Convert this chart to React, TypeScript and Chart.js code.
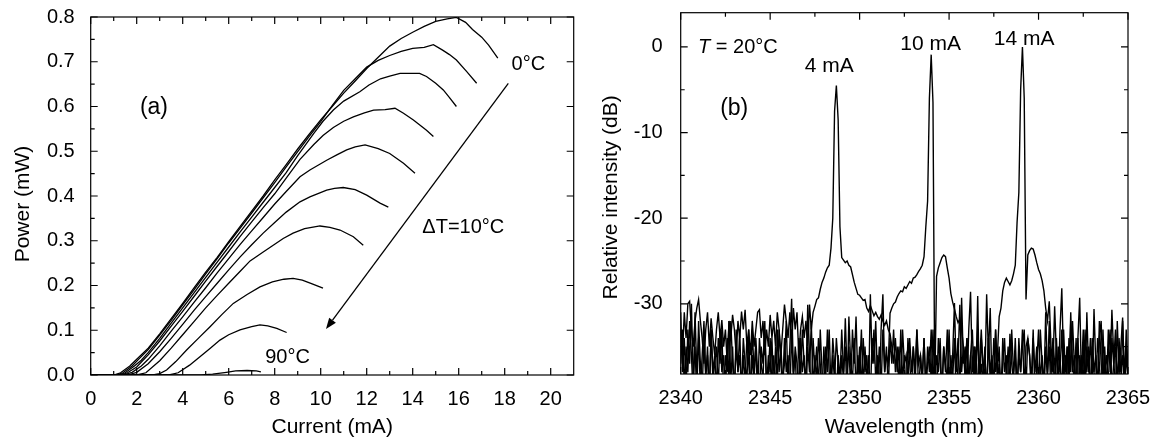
import React, { useEffect, useRef } from "react";
import { Chart, registerables } from "chart.js";

Chart.register(...registerables);

const FONT = '"Liberation Sans", Arial, Helvetica, sans-serif';

// ---------------- Panel (a): output power vs current, 0°C … 90°C ----------------
const LI_0C: number[][] = [[0,0],[1.0,0],[1.3,0.005],[1.7,0.02],[2.0,0.035],[2.5,0.06],[3.0,0.092],[3.5,0.126],[4.0,0.16],[4.5,0.195],[5.0,0.23],[5.5,0.263],[6.0,0.298],[6.5,0.332],[7.0,0.366],[7.5,0.4],[8.0,0.436],[8.5,0.47],[9.0,0.505],[9.5,0.538],[10.0,0.57],[10.5,0.6],[11.0,0.63],[11.5,0.657],[12.0,0.685],[12.5,0.71],[13.0,0.735],[13.5,0.752],[14.0,0.766],[14.5,0.779],[15.0,0.79],[15.5,0.796],[15.9,0.799],[16.3,0.788],[16.6,0.772],[17.0,0.755],[17.3,0.737],[17.7,0.708]];
const LI_10C: number[][] = [[0,0],[1.1,0],[1.4,0.005],[1.8,0.02],[2.1,0.036],[2.5,0.057],[3.0,0.089],[3.5,0.122],[4.0,0.157],[4.5,0.191],[5.0,0.226],[5.5,0.26],[6.0,0.295],[6.5,0.328],[7.0,0.362],[7.5,0.396],[8.0,0.43],[8.5,0.465],[9.0,0.499],[9.5,0.533],[10.0,0.566],[10.5,0.602],[11.0,0.636],[11.5,0.662],[12.0,0.688],[12.5,0.703],[13.0,0.714],[13.5,0.723],[14.0,0.73],[14.5,0.732],[14.9,0.738],[15.3,0.726],[15.6,0.716],[15.9,0.704],[16.35,0.678],[16.78,0.652]];
const LI_20C: number[][] = [[0,0],[1.2,0],[1.5,0.005],[1.9,0.02],[2.2,0.033],[2.5,0.05],[3.0,0.082],[3.5,0.116],[4.0,0.15],[4.5,0.184],[5.0,0.218],[5.5,0.252],[6.0,0.286],[6.5,0.32],[7.0,0.353],[7.5,0.386],[8.0,0.419],[8.5,0.452],[9.0,0.49],[9.7,0.54],[10.1,0.567],[10.55,0.592],[11.0,0.612],[11.7,0.633],[12.1,0.648],[12.6,0.662],[13.0,0.668],[13.45,0.674],[14.3,0.674],[14.6,0.667],[15.0,0.652],[15.33,0.637],[15.6,0.62],[15.9,0.6]];
const LI_30C: number[][] = [[0,0],[1.3,0],[1.6,0.005],[2.0,0.018],[2.5,0.045],[3.0,0.076],[3.5,0.109],[4.0,0.142],[4.5,0.176],[5.0,0.21],[5.5,0.243],[6.0,0.276],[6.5,0.31],[7.0,0.342],[7.5,0.374],[8.0,0.405],[8.5,0.44],[9.1,0.482],[9.7,0.515],[10.1,0.535],[10.55,0.553],[11.0,0.567],[11.42,0.577],[11.9,0.586],[12.3,0.592],[12.8,0.593],[13.23,0.596],[13.6,0.585],[14.03,0.57],[14.6,0.547],[14.9,0.533]];
const LI_40C: number[][] = [[0,0],[1.4,0],[1.8,0.006],[2.2,0.02],[2.5,0.035],[3.0,0.065],[3.5,0.098],[4.0,0.13],[4.5,0.163],[5.0,0.195],[5.5,0.228],[6.0,0.26],[6.5,0.292],[7.0,0.322],[7.5,0.352],[8.0,0.382],[8.5,0.41],[9.1,0.443],[9.53,0.458],[10.26,0.48],[10.7,0.492],[11.13,0.503],[11.5,0.51],[11.93,0.514],[12.5,0.506],[13.0,0.495],[13.6,0.473],[14.1,0.451]];
const LI_50C: number[][] = [[0,0],[1.6,0],[2.0,0.006],[2.5,0.025],[3.0,0.052],[3.5,0.082],[4.0,0.113],[4.5,0.145],[5.0,0.175],[5.5,0.205],[6.0,0.235],[6.5,0.264],[7.0,0.291],[7.5,0.317],[8.0,0.341],[8.5,0.364],[9.1,0.387],[9.53,0.398],[10.26,0.413],[10.6,0.417],[10.98,0.419],[11.5,0.414],[12.0,0.402],[12.58,0.384],[12.94,0.375]];
const LI_60C: number[][] = [[0,0],[2.0,0],[2.4,0.005],[3.0,0.032],[3.5,0.06],[4.0,0.09],[4.5,0.12],[5.0,0.15],[5.5,0.178],[6.0,0.205],[6.5,0.232],[6.93,0.255],[7.5,0.275],[8.0,0.292],[8.37,0.305],[8.8,0.317],[9.3,0.327],[9.97,0.333],[10.4,0.33],[10.84,0.324],[11.42,0.309],[11.85,0.29]];
const LI_70C: number[][] = [[0,0],[2.7,0],[3.0,0.003],[3.3,0.011],[3.7,0.03],[4.17,0.056],[4.7,0.083],[5.19,0.108],[5.7,0.135],[6.2,0.16],[6.8,0.18],[7.36,0.197],[7.9,0.208],[8.4,0.214],[8.8,0.216],[9.2,0.212],[9.6,0.204],[10.1,0.194]];
const LI_80C: number[][] = [[0,0],[3.4,0],[3.8,0.005],[4.3,0.022],[4.75,0.041],[5.2,0.06],[5.62,0.078],[6.0,0.09],[6.49,0.101],[7.0,0.108],[7.36,0.112],[7.7,0.11],[8.09,0.104],[8.52,0.095]];
const LI_90C: number[][] = [[0,0],[4.8,0],[5.3,0.002],[5.9,0.006],[6.3,0.009],[6.8,0.01],[7.2,0.009],[7.4,0.007]];

const LI_CURVES = [LI_0C, LI_10C, LI_20C, LI_30C, LI_40C, LI_50C, LI_60C, LI_70C, LI_80C, LI_90C];
const LI_LABELS = ["0°C", "10°C", "20°C", "30°C", "40°C", "50°C", "60°C", "70°C", "80°C", "90°C"];

const A_X_MAJOR = [0, 2, 4, 6, 8, 10, 12, 14, 16, 18, 20];
const A_X_MINOR = [1, 3, 5, 7, 9, 11, 13, 15, 17, 19];
const A_Y_MAJOR = [0, 0.1, 0.2, 0.3, 0.4, 0.5, 0.6, 0.7, 0.8];
const A_Y_MINOR = [0.05, 0.15, 0.25, 0.35, 0.45, 0.55, 0.65, 0.75];

// ---------------- Panel (b): spectra at T = 20°C (dB), sampled every 0.1 nm from 2340 nm ----------------
const WL_START = 2340;
const WL_STEP = 0.1;

const SPEC_4MA = [
  -33,-36,-31,-34,-30,-29.7,-33,-35,-32,-30.5,
  -29.5,-32,-34,-37,-33,-31,-35,-31.7,-34,-36,
  -33,-31,-34,-31.9,-35,-33,-37,-32,-34,-31.3,
  -33,-36,-32,-34,-30.9,-33,-30.7,-35,-33,-36,
  -32,-35,-33,-31,-30.7,-34,-32,-36,-33,-35,
  -31.3,-34,-32,-35,-31,-33,-36,-33,-30.1,-32,
  -34,-31,-35,-30.5,-33,-31,-36,-33,-31.5,-34,
  -32,-35,-30.1,-33,-31,-30.3,-29.5,-29.3,-28.3,-27.5,
  -27,-26.3,-25.8,-25.5,-23.5,-20,-7.5,-4.5,-8.5,-21,
  -24.6,-24.9,-25.2,-25,-25.5,-25.7,-26.6,-27.5,-28.2,-28.9,
  -29,-29.3,-29.6,-29.5,-30.5,-30.9,-30.2,-30.8,-31.4,-31,
  -31.5,-31.8,-31.3,-32,-32.5,-32,-33,-33.5,-35,-37,
  -34,-38,-35,-40,-33,-37,-36,-39,-34,-38,
  -35,-40,-33,-37,-36,-39,-34,-40,-35,-38,
  -33,-39,-36,-41,-34,-37,-40,-35,-38,-33,
  -40,-36,-39,-34,-41,-37,-30.1,-38,-35,-39,
  -34,-41,-36,-33,-39,-35,-40,-37,-33,-38,
  -36,-41,-34,-39,-37,-40,-33,-38,-35,-41,
  -37,-34,-39,-35,-40,-33,-38,-36,-41,-34,
  -38,-35,-33,-40,-34,-36,-39,-33,-41,-37,
  -33,-39,-36,-40,-31,-38,-35,-41,-34,-37,
  -40,-35,-38,-33,-39,-36,-41,-34,-38,-32,
  -37,-41,-34,-39,-36,-40,-33,-38,-35,-41,
  -35,-38,-40,-34,-37,-41,-33,-39,-36,-38,
  -40,-34,-37,-33,-39,-36,-41,-32,-38,-35,
  -37,
];

const SPEC_10MA = [
  -31,-38,-34,-40,-33,-37,-30,-39,-35,-41,
  -32,-37,-40,-34,-38,-36,-41,-33,-39,-37,
  -35,-40,-33,-38,-36,-41,-34,-39,-32,-37,
  -40,-35,-38,-33,-41,-36,-39,-34,-37,-40,
  -33,-38,-35,-41,-34,-37,-39,-32,-40,-36,
  -38,-34,-41,-35,-39,-33,-37,-40,-34,-38,
  -36,-41,-33,-39,-35,-37,-40,-34,-38,-36,
  -41,-35,-38,-32.2,-40,-36,-39,-34,-37,-41,
  -35,-39,-33,-38,-40,-34,-37,-41,-36,-39,
  -33,-38,-35,-41,-31.5,-37,-39,-34,-40,-36,
  -38,-33,-40,-35,-39,-36,-41,-34,-37,-32,
  -39,-35,-40,-33,-38,-36,-37,-31.1,-30.5,-30,
  -29.8,-29.2,-28.8,-28.5,-28.6,-28,-28.2,-27.8,-27.4,-27.6,
  -27,-26.9,-26.6,-26.2,-25.9,-25.5,-24.5,-21,-18,-6,
  -0.9,-6.5,-40,-26.8,-25.8,-25.2,-24.6,-24.3,-24.5,-25.8,
  -27,-28.8,-29.8,-30.6,-31.5,-32.2,-31.8,-33,-35,-37,
  -34,-39,-36,-41,-35,-38,-33,-40,-37,-39,
  -35,-41,-34,-38,-36,-40,-33,-39,-37,-41,
  -34,-38,-36,-41,-33.5,-37,-39,-34,-40,-36,
  -38,-33,-40,-35,-34,-36,-41,-34,-38,-35,
  -40,-33,-37,-41,-35,-39,-32,-38,-36,-40,
  -34,-39,-36,-41,-33,-38,-35,-40,-32,-37,
  -39,-34,-41,-36,-38,-33,-40,-35,-37,-41,
  -34,-38,-36,-40,-32,-37,-39,-35,-41,-36,
  -33,-40,-37,-35,-41,-34,-38,-36,-40,-33,
  -38,
];

const SPEC_14MA = [
  -37,-33,-40,-35,-38,-32,-36,-41,-31,-38,
  -34,-40,-36,-32,-39,-35,-41,-33,-38,-36,
  -40,-34,-37,-33,-41,-36,-38,-32,-39,-35,
  -41,-33,-38,-36,-40,-34,-37,-39,-33,-41,
  -36,-39,-34,-38,-41,-35,-37,-33,-40,-38,
  -34,-40,-36,-41,-33,-38,-35,-39,-37,-32,
  -40,-35,-29.4,-38,-36,-41,-34,-39,-33,-37,
  -39,-30.1,-36,-41,-34,-38,-35,-40,-33,-38,
  -41,-35,-38,-33,-40,-36,-39,-34,-37,-41,
  -36,-39,-31.7,-38,-35,-40,-33,-37,-31.5,-39,
  -35,-40,-34,-38,-36,-41,-28.9,-37,-33,-39,
  -36,-41,-33,-28.9,-38,-35,-40,-34,-37,-33,
  -38,-35,-40,-33,-39,-36,-41,-34,-37,-40,
  -35,-38,-33,-41,-36,-39,-34,-40,-37,-35,
  -39,-33,-40,-36,-38,-34,-41,-35,-37,-39,
  -33,-40,-36,-29.9,-38,-34,-41,-29.3,-37,-35,
  -40,-33,-28.6,-38,-35,-39,-29.1,-41,-34,-37,
  -39,-28.9,-36,-30.5,-40,-34,-38,-36,-31.5,-30.5,
  -28.5,-27.5,-27,-27.4,-27.8,-27.3,-26.5,-25.5,-20.5,-17,
  -5,0,-6,-29.5,-24.3,-23.8,-23.5,-23.6,-24.3,-25.2,
  -26,-26.5,-27.3,-28.5,-30.5,-32,-29.7,-35,-38,-30.3,
  -36,-40,-33,-28.2,-37,-41,-35,-39,-31,-38,
  -36,-40,-34,-29.3,-39,-35,-41,-31,-38,-34,
  -40,-30.6,-37,-41,-34,-32,-39,-36,-40,-33,
  -38,-30.7,-36,-41,-32,-38,-35,-31.6,-40,-36,
  -39,
];

const SPECTRA = [SPEC_4MA, SPEC_10MA, SPEC_14MA];
const SPEC_LABELS = ["4 mA", "10 mA", "14 mA"];

const B_X_MAJOR = [2340, 2345, 2350, 2355, 2360, 2365];
const B_X_MINOR = [2342.5, 2347.5, 2352.5, 2357.5, 2362.5];
const B_Y_MAJOR = [0, -10, -20, -30];
const B_Y_MINOR = [-5, -15, -25, -35];

// ---------------- helpers ----------------
type Note = { text: string; x: number; y: number; size: number; align?: CanvasTextAlign; italicLead?: string };
type Arrow = { x1: number; y1: number; x2: number; y2: number };
type Decor = {
  xMajor: number[]; xMinor: number[]; yMajor: number[]; yMinor: number[];
  rightMinor: boolean; majLen: number; minLen: number;
  xTitle: string; xTitleBaseline: number;
  yTitle: string; yTitleBaseline: number; yTitleShift: number;
  notes: Note[]; arrow?: Arrow;
};

function decorPlugin(cfg: Decor) {
  return {
    id: "decor",
    afterDraw(chart: any) {
      const { ctx, chartArea: ca } = chart;
      const xs = chart.scales.x;
      const ys = chart.scales.y;
      ctx.save();
      ctx.strokeStyle = "#000";
      ctx.fillStyle = "#000";
      ctx.lineWidth = 1.2;
      ctx.strokeRect(ca.left, ca.top, ca.right - ca.left, ca.bottom - ca.top);
      ctx.beginPath();
      const vt = (v: number, len: number) => {
        const p = xs.getPixelForValue(v);
        ctx.moveTo(p, ca.bottom); ctx.lineTo(p, ca.bottom - len);
        ctx.moveTo(p, ca.top); ctx.lineTo(p, ca.top + len);
      };
      const ht = (v: number, len: number, right: boolean) => {
        const p = ys.getPixelForValue(v);
        ctx.moveTo(ca.left, p); ctx.lineTo(ca.left + len, p);
        if (right) { ctx.moveTo(ca.right, p); ctx.lineTo(ca.right - len, p); }
      };
      cfg.xMajor.forEach((v) => vt(v, cfg.majLen));
      cfg.xMinor.forEach((v) => vt(v, cfg.minLen));
      cfg.yMajor.forEach((v) => ht(v, cfg.majLen, true));
      cfg.yMinor.forEach((v) => ht(v, cfg.minLen, cfg.rightMinor));
      ctx.stroke();

      // axis titles
      ctx.font = `21px ${FONT}`;
      ctx.textAlign = "center";
      ctx.textBaseline = "alphabetic";
      ctx.fillText(cfg.xTitle, (ca.left + ca.right) / 2, cfg.xTitleBaseline);
      ctx.save();
      ctx.translate(cfg.yTitleBaseline, (ca.top + ca.bottom) / 2 + cfg.yTitleShift);
      ctx.rotate(-Math.PI / 2);
      ctx.fillText(cfg.yTitle, 0, 0);
      ctx.restore();

      // annotations
      for (const n of cfg.notes) {
        const px = xs.getPixelForValue(n.x);
        const py = ys.getPixelForValue(n.y);
        ctx.textBaseline = "alphabetic";
        if (n.italicLead) {
          ctx.textAlign = "left";
          ctx.font = `italic ${n.size}px ${FONT}`;
          ctx.fillText(n.italicLead, px, py);
          const w = ctx.measureText(n.italicLead).width;
          ctx.font = `${n.size}px ${FONT}`;
          ctx.fillText(n.text, px + w, py);
        } else {
          ctx.textAlign = n.align || "center";
          ctx.font = `${n.size}px ${FONT}`;
          ctx.fillText(n.text, px, py);
        }
      }

      if (cfg.arrow) {
        const a = cfg.arrow;
        const x1 = xs.getPixelForValue(a.x1), y1 = ys.getPixelForValue(a.y1);
        const x2 = xs.getPixelForValue(a.x2), y2 = ys.getPixelForValue(a.y2);
        const ang = Math.atan2(y2 - y1, x2 - x1);
        const hl = 11, hw = 4.2;
        const bx = x2 - hl * Math.cos(ang), by = y2 - hl * Math.sin(ang);
        ctx.lineWidth = 1.3;
        ctx.beginPath();
        ctx.moveTo(x1, y1);
        ctx.lineTo(bx, by);
        ctx.stroke();
        ctx.beginPath();
        ctx.moveTo(x2, y2);
        ctx.lineTo(bx + hw * Math.sin(ang), by - hw * Math.cos(ang));
        ctx.lineTo(bx - hw * Math.sin(ang), by + hw * Math.cos(ang));
        ctx.closePath();
        ctx.fill();
      }
      ctx.restore();
    },
  };
}

type Geom = { top: number; right: number; yw: number; xh: number; xpad: number; ypad: number };

function makeOptions(
  xMin: number, xMax: number, yMin: number, yMax: number,
  xTicks: number[], yTicks: number[], yFmt: (v: number) => string, g: Geom
): any {
  return {
    responsive: false,
    maintainAspectRatio: false,
    animation: false,
    events: [],
    devicePixelRatio: 1,
    layout: { padding: { left: 0, top: g.top, right: g.right, bottom: 0 } },
    plugins: { legend: { display: false }, tooltip: { enabled: false }, title: { display: false } },
    elements: { point: { radius: 0 }, line: { tension: 0 } },
    scales: {
      x: {
        type: "linear", min: xMin, max: xMax,
        grid: { display: false }, border: { display: false },
        afterBuildTicks: (s: any) => { s.ticks = xTicks.map((v) => ({ value: v })); },
        afterFit: (s: any) => { s.height = g.xh; s.paddingLeft = 0; s.paddingRight = 0; },
        ticks: {
          autoSkip: false, maxRotation: 0, minRotation: 0, padding: g.xpad, color: "#000",
          font: { family: FONT, size: 20 },
          callback: (v: number) => String(v),
        },
      },
      y: {
        type: "linear", min: yMin, max: yMax,
        grid: { display: false }, border: { display: false },
        afterBuildTicks: (s: any) => { s.ticks = yTicks.map((v) => ({ value: v })); },
        afterFit: (s: any) => { s.width = g.yw; s.paddingTop = 0; s.paddingBottom = 0; },
        ticks: {
          autoSkip: false, padding: g.ypad, color: "#000",
          font: { family: FONT, size: 20 },
          callback: (v: number) => yFmt(v),
        },
      },
    },
  };
}

export default function App() {
  const refA = useRef<HTMLCanvasElement | null>(null);
  const refB = useRef<HTMLCanvasElement | null>(null);

  useEffect(() => {
    if (!refA.current || !refB.current) return;

    const dsA = LI_CURVES.map((c, i) => ({
      label: LI_LABELS[i],
      data: c.map(([x, y]) => ({ x, y })),
      showLine: true, borderColor: "#000", borderWidth: 1.3, pointRadius: 0, fill: false,
    }));

    const dsB = SPECTRA.map((s, i) => ({
      label: SPEC_LABELS[i],
      data: s.map((v, k) => ({ x: WL_START + k * WL_STEP, y: v })),
      showLine: true, borderColor: "#000", borderWidth: 1.4, pointRadius: 0, fill: false,
    }));

    const decorA = decorPlugin({
      xMajor: A_X_MAJOR, xMinor: A_X_MINOR, yMajor: A_Y_MAJOR, yMinor: A_Y_MINOR,
      rightMinor: false, majLen: 7, minLen: 4,
      xTitle: "Current (mA)", xTitleBaseline: 433,
      yTitle: "Power (mW)", yTitleBaseline: 29, yTitleShift: 8,
      notes: [
        { text: "(a)", x: 2.75, y: 0.583, size: 23 },
        { text: "0°C", x: 19.03, y: 0.6816, size: 20 },
        { text: "ΔT=10°C", x: 16.2, y: 0.3166, size: 20 },
        { text: "90°C", x: 8.56, y: 0.026, size: 20 },
      ],
      arrow: { x1: 18.157, y1: 0.6518, x2: 10.23, y2: 0.1028 },
    });

    const decorB = decorPlugin({
      xMajor: B_X_MAJOR, xMinor: B_X_MINOR, yMajor: B_Y_MAJOR, yMinor: B_Y_MINOR,
      rightMinor: true, majLen: 7, minLen: 4,
      xTitle: "Wavelength (nm)", xTitleBaseline: 433,
      yTitle: "Relative intensity (dB)", yTitleBaseline: 38.5, yTitleShift: 4,
      notes: [
        { text: " = 20°C", italicLead: "T", x: 2340.97, y: -0.73, size: 20 },
        { text: "4 mA", x: 2348.3, y: -2.91, size: 21 },
        { text: "(b)", x: 2342.99, y: -7.9, size: 23 },
        { text: "10 mA", x: 2353.97, y: -0.385, size: 21 },
        { text: "14 mA", x: 2359.19, y: 0.2, size: 21 },
      ],
    });

    const chartA = new Chart(refA.current, {
      type: "scatter",
      data: { datasets: dsA as any },
      options: makeOptions(0, 21, 0, 0.8, A_X_MAJOR, A_Y_MAJOR, (v) => v.toFixed(1),
        { top: 17, right: 4.3, yw: 90.7, xh: 66, xpad: 4, ypad: 8 }),
      plugins: [decorA],
    });

    const chartB = new Chart(refB.current, {
      type: "scatter",
      data: { datasets: dsB as any },
      options: makeOptions(2340, 2365, -38.2, 4, B_X_MAJOR, B_Y_MAJOR, (v) => String(v),
        { top: 12.7, right: 28, yw: 102.7, xh: 67, xpad: 4, ypad: 10 }),
      plugins: [decorB],
    });

    return () => {
      chartA.destroy();
      chartB.destroy();
    };
  }, []);

  return (
    <div style={{ position: "absolute", left: 0, top: 0, width: 1156, height: 441, background: "#fff" }}>
      <canvas ref={refA} width={578} height={441}
        style={{ position: "absolute", left: 0, top: 0, width: 578, height: 441 }} />
      <canvas ref={refB} width={578} height={441}
        style={{ position: "absolute", left: 578, top: 0, width: 578, height: 441 }} />
    </div>
  );
}
